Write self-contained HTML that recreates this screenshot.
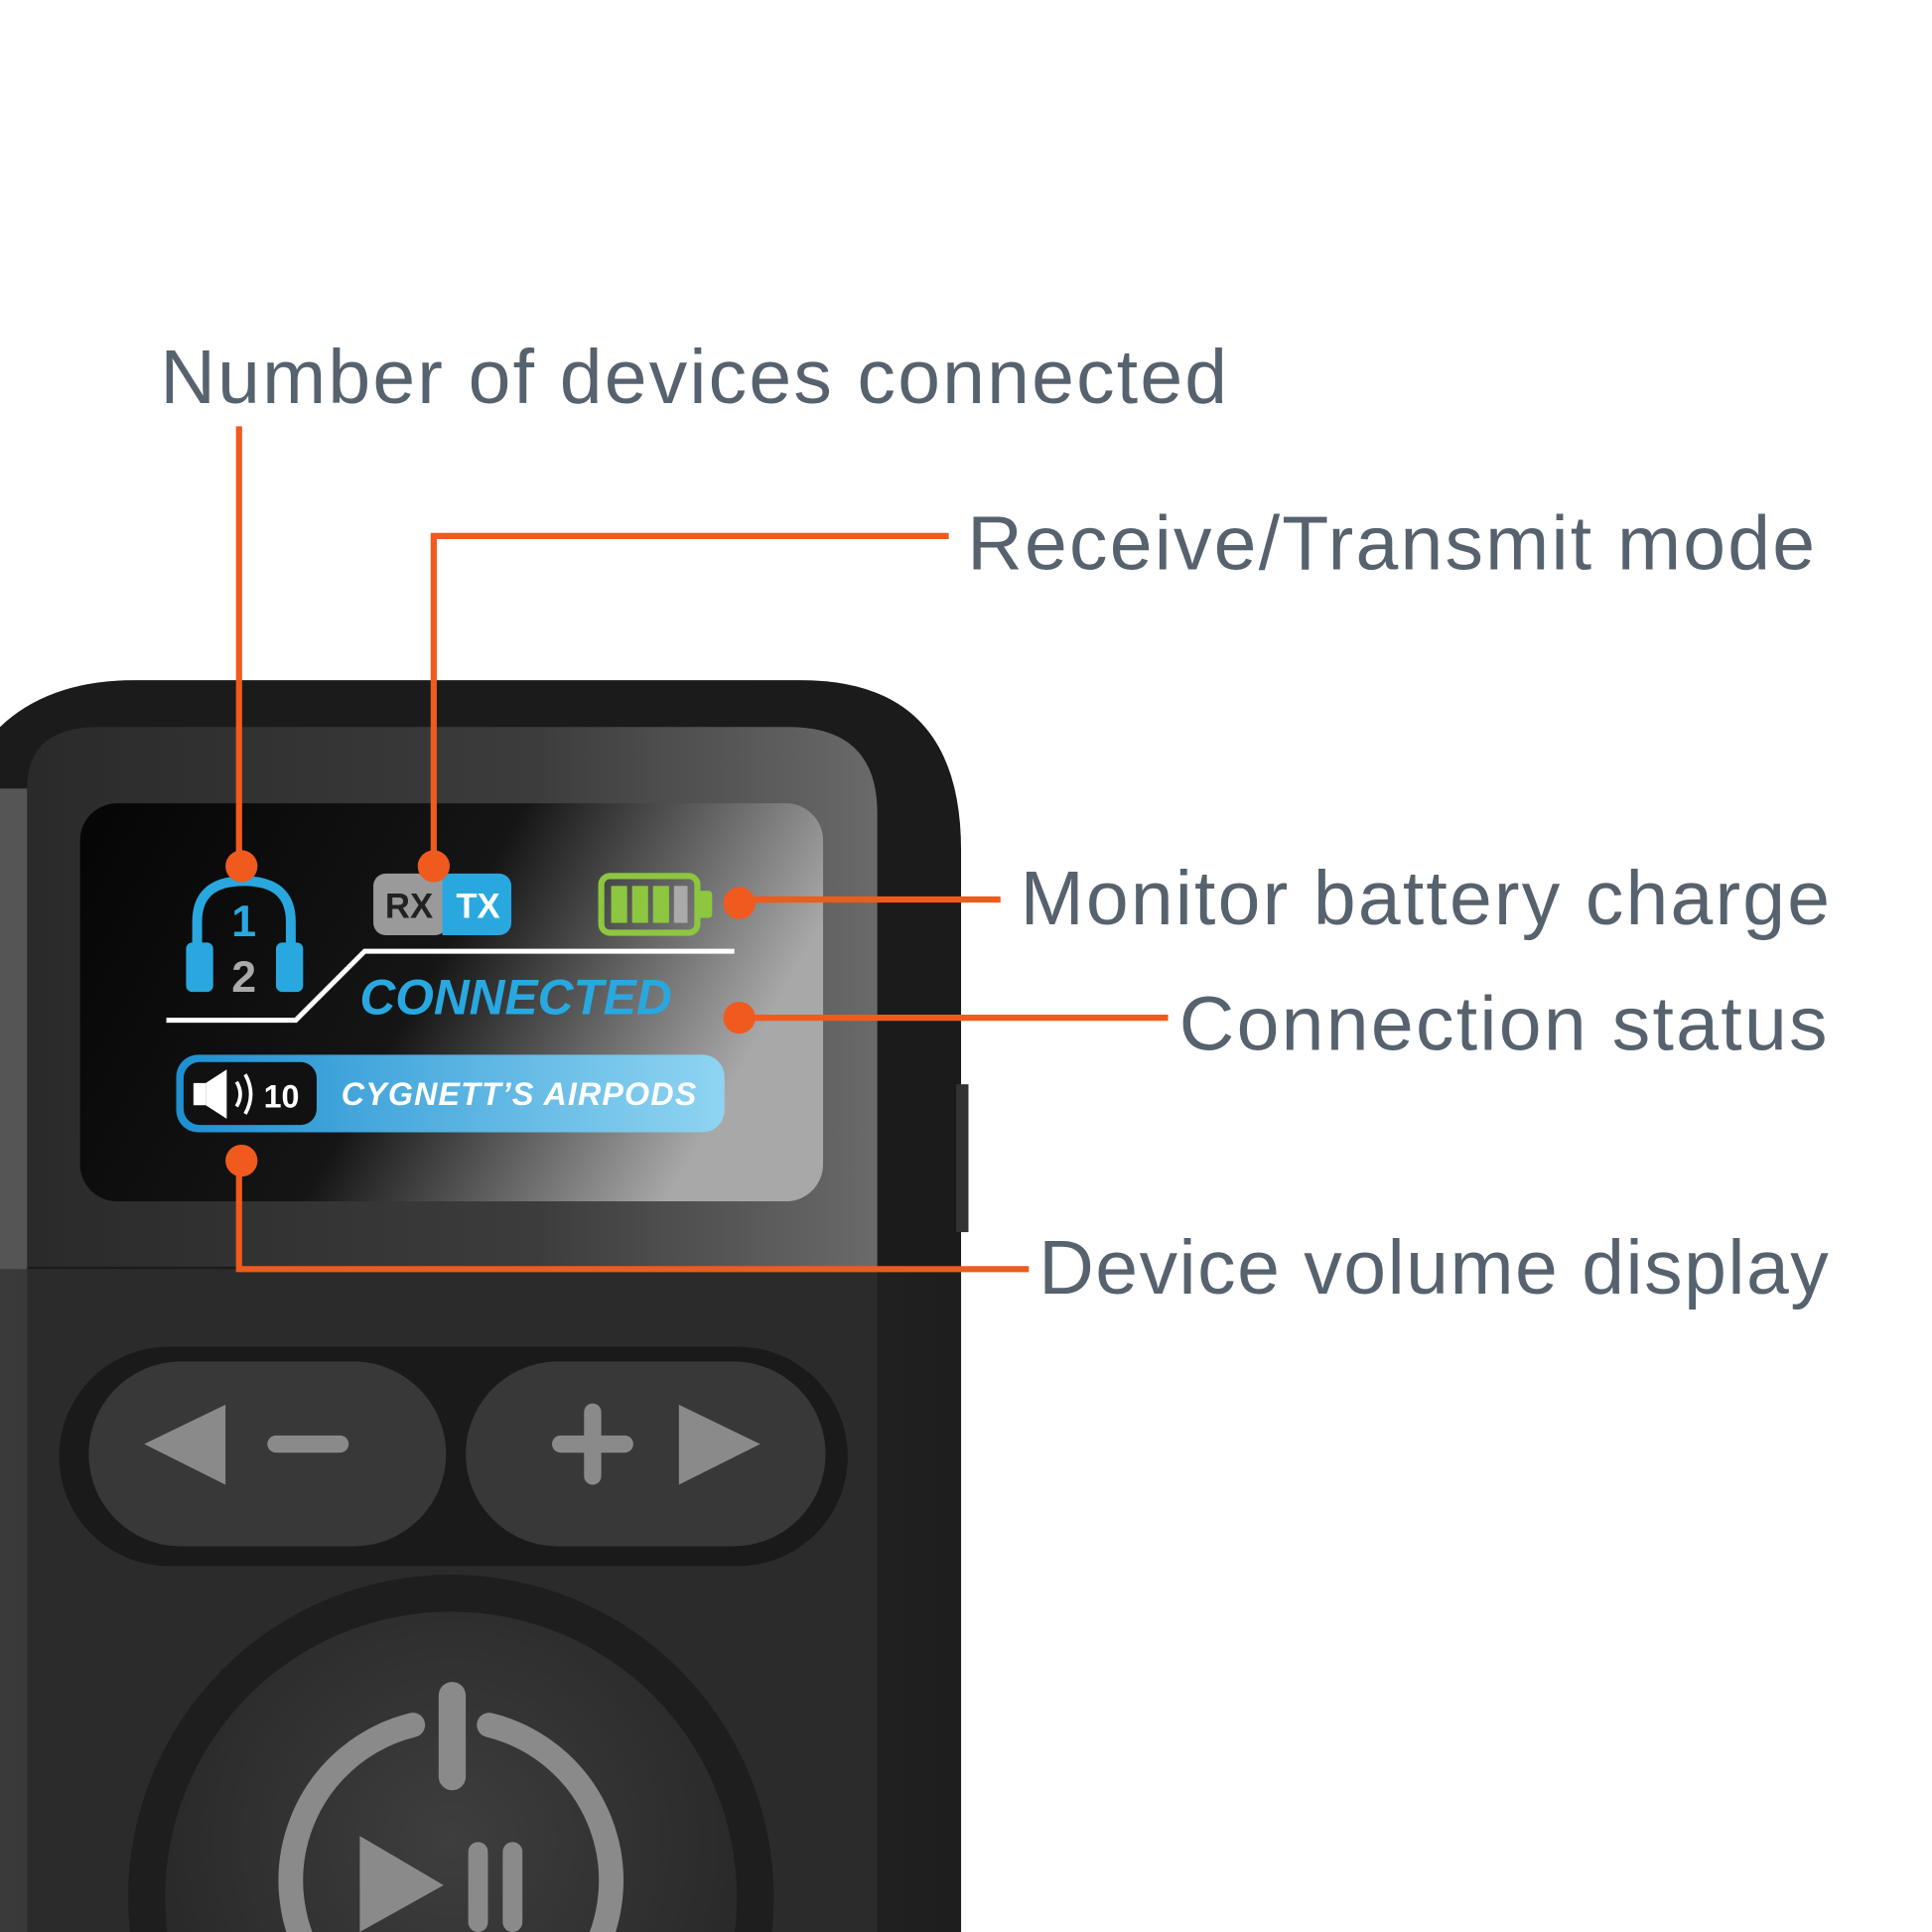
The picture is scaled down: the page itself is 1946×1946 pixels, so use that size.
<!DOCTYPE html>
<html><head><meta charset="utf-8"><style>
html,body{margin:0;padding:0;background:#fff;width:1946px;height:1946px;overflow:hidden;}
svg{display:block;}
</style></head><body>
<svg width="1946" height="1946" viewBox="0 0 1568 1568" xmlns="http://www.w3.org/2000/svg">
<defs>
<linearGradient id="scr" x1="0" y1="0" x2="1" y2="0.3">
<stop offset="0" stop-color="#050505"/><stop offset="0.55" stop-color="#151515"/><stop offset="1" stop-color="#a8a8a8"/>
</linearGradient>
<linearGradient id="bez" x1="0" y1="0" x2="1" y2="0">
<stop offset="0" stop-color="#2a2a2a"/><stop offset="0.6" stop-color="#3c3c3c"/><stop offset="1" stop-color="#6a6a6a"/>
</linearGradient>
<linearGradient id="low" x1="0" y1="0" x2="1" y2="0">
<stop offset="0" stop-color="#3a3a3a"/><stop offset="0.5" stop-color="#2a2a2a"/><stop offset="1" stop-color="#1e1e1e"/>
</linearGradient>
<linearGradient id="pill" x1="0" y1="0" x2="1" y2="0">
<stop offset="0" stop-color="#1e8fd0"/><stop offset="1" stop-color="#8fd4f2"/>
</linearGradient>
<radialGradient id="btn" cx="0.5" cy="0.4" r="0.6">
<stop offset="0" stop-color="#3e3e3e"/><stop offset="1" stop-color="#262626"/>
</radialGradient>
</defs>
<rect width="1568" height="1568" fill="#fff"/>
<path d="M0 590 Q40 552 110 552 L650 552 Q780 552 780 690 L780 1568 L0 1568 Z" fill="#1b1b1b"/>
<path d="M22 640 Q22 590 80 590 L640 590 Q712 590 712 660 L712 1028 L22 1028 Z" fill="url(#bez)"/>
<rect x="0" y="1030" width="780" height="538" fill="url(#low)"/>
<rect x="22" y="1030" width="690" height="538" fill="#2b2b2b"/>
<rect x="0" y="640" width="22" height="390" fill="#555"/>
<rect x="776" y="880" width="10" height="120" fill="#333"/>
<rect x="65" y="652" width="603" height="323" rx="30" fill="url(#scr)"/>
<rect x="48" y="1093" width="640" height="178" rx="89" fill="#1a1a1a"/>
<rect x="72" y="1105" width="290" height="150" rx="75" fill="#383838"/>
<rect x="378" y="1105" width="292" height="150" rx="75" fill="#383838"/>
<polygon points="183,1140 183,1205 117,1172" fill="#8a8a8a"/>
<rect x="217" y="1165" width="66" height="14" rx="7" fill="#8a8a8a"/>
<rect x="448" y="1165" width="66" height="14" rx="7" fill="#8a8a8a"/>
<rect x="474" y="1139" width="14" height="66" rx="7" fill="#8a8a8a"/>
<polygon points="551,1140 551,1205 617,1172" fill="#8a8a8a"/>
<circle cx="366" cy="1540" r="262" fill="#1e1e1e"/>
<circle cx="366" cy="1540" r="232" fill="url(#btn)"/>
<path d="M335 1400 A130 130 0 1 0 397 1400" fill="none" stroke="#8a8a8a" stroke-width="20" stroke-linecap="round"/>
<rect x="356" y="1365" width="22" height="88" rx="11" fill="#8a8a8a"/>
<polygon points="292,1490 292,1568 360,1530" fill="#8a8a8a"/>
<rect x="380" y="1495" width="16" height="73" rx="8" fill="#8a8a8a"/>
<rect x="408" y="1495" width="16" height="73" rx="8" fill="#8a8a8a"/>
<path d="M160 775 L160 748 Q160 715 198 715 Q236 715 236 748 L236 775" fill="none" stroke="#29a8e0" stroke-width="8"/>
<rect x="151" y="765" width="22" height="40" rx="5" fill="#29a8e0"/>
<rect x="224" y="765" width="22" height="40" rx="5" fill="#29a8e0"/>
<text x="198" y="760" font-family="Liberation Sans,sans-serif" font-weight="bold" font-size="36" fill="#29a8e0" text-anchor="middle">1</text>
<text x="198" y="805" font-family="Liberation Sans,sans-serif" font-weight="bold" font-size="36" fill="#aaa" text-anchor="middle">2</text>
<rect x="303" y="709" width="60" height="50" rx="10" fill="#9a9a9a"/>
<rect x="359" y="709" width="56" height="50" rx="10" fill="#29a8e0"/>
<rect x="359" y="709" width="12" height="50" fill="#29a8e0"/>
<text x="332" y="745" font-family="Liberation Sans,sans-serif" font-weight="bold" font-size="28" fill="#222" text-anchor="middle">RX</text>
<text x="388" y="745" font-family="Liberation Sans,sans-serif" font-weight="bold" font-size="28" fill="#fff" text-anchor="middle">TX</text>
<rect x="488" y="711" width="78" height="46" rx="7" fill="none" stroke="#8dc63f" stroke-width="5"/>
<rect x="566" y="723" width="12" height="22" rx="3" fill="#8dc63f"/>
<rect x="496" y="719" width="13" height="30" fill="#8dc63f"/><rect x="513" y="719" width="13" height="30" fill="#8dc63f"/>
<rect x="530" y="719" width="13" height="30" fill="#8dc63f"/><rect x="547" y="719" width="11" height="30" fill="#aaa"/>
<path d="M135 828 L240 828 L296 772 L596 772" fill="none" stroke="#fff" stroke-width="4"/>
<text x="292" y="823" font-family="Liberation Sans,sans-serif" font-weight="bold" font-style="italic" font-size="40" fill="#29a8e0">CONNECTED</text>
<rect x="143" y="856" width="445" height="63" rx="18" fill="url(#pill)"/>
<rect x="149" y="862" width="108" height="51" rx="13" fill="#111"/>
<rect x="157" y="879" width="10" height="18" fill="#fff"/>
<polygon points="167,879 184,868 184,908 167,897" fill="#fff"/>
<path d="M192 878 Q198 888 192 898 M199 872 Q208 888 199 904" fill="none" stroke="#fff" stroke-width="3"/>
<text x="214" y="899" font-family="Liberation Sans,sans-serif" font-weight="bold" font-size="26" fill="#fff">10</text>
<text x="277" y="897" font-family="Liberation Sans,sans-serif" font-weight="bold" font-style="italic" font-size="26" fill="#fff" textLength="288">CYGNETT’S AIRPODS</text>
<g stroke="#f05a1e" stroke-width="5" fill="none">
<path d="M194 346 L194 703"/>
<path d="M352 703 L352 435 L770 435"/>
<path d="M600 730 L812 730"/>
<path d="M600 826 L948 826"/>
<path d="M194 942 L194 1030 L835 1030"/>
</g>
<g fill="#f05a1e">
<circle cx="196" cy="703" r="13"/><circle cx="352" cy="703" r="13"/>
<circle cx="600" cy="733" r="13"/><circle cx="600" cy="826" r="13"/><circle cx="196" cy="942" r="13"/>
</g>
<g font-family="Liberation Sans,sans-serif" font-size="62" fill="#56626d">
<text x="130" y="327" textLength="866">Number of devices connected</text>
<text x="785" y="462" textLength="688">Receive/Transmit mode</text>
<text x="828" y="750" textLength="657">Monitor battery charge</text>
<text x="957" y="852" textLength="526">Connection status</text>
<text x="843" y="1050" textLength="641">Device volume display</text>
</g>
</svg>
</body></html>
